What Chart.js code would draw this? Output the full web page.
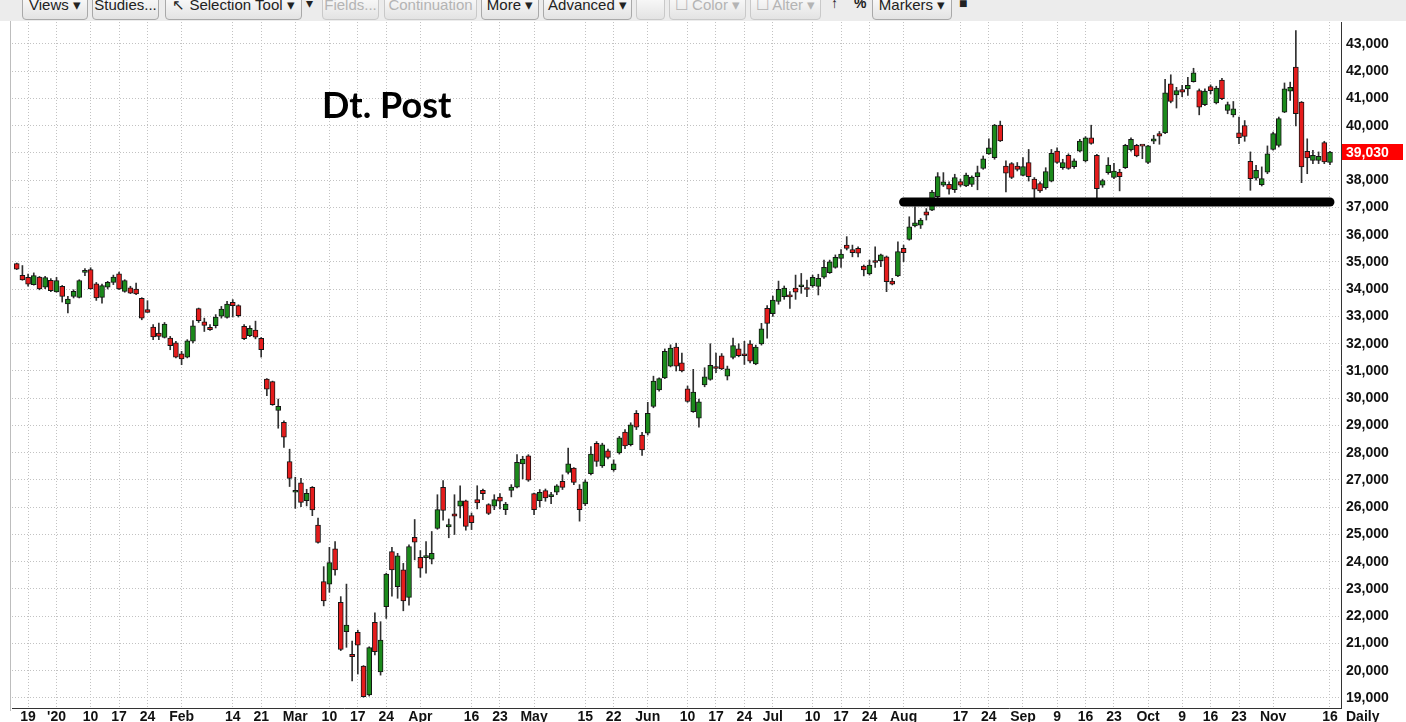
<!DOCTYPE html>
<html>
<head>
<meta charset="utf-8">
<title>Dt. Post</title>
<script src="https://cdn.jsdelivr.net/npm/chart.js"></script>
<style>
  html, body { margin: 0; padding: 0; background: #fff; }
  #wrap { position: relative; width: 1406px; height: 722px; overflow: hidden; font-family: "Liberation Sans", Arial, sans-serif; }
  #chart { position: absolute; left: 0; top: 0; }
  #toolbar { position: absolute; left: 0; top: 0; width: 1406px; height: 21px; background: #ececec; overflow: hidden; }
  .btn { position: absolute; top: -9px; height: 29px; line-height: 25px; border: 1px solid #a9a9a9; border-radius: 4px;
         background: linear-gradient(#ffffff, #e3e3e3); font-size: 15px; color: #222; text-align: center; white-space: nowrap; box-sizing: border-box; }
  .btn.off { color: #b4b4b4; border-color: #c9c9c9; }
  .sym { position: absolute; top: -5px; font-size: 14px; font-weight: bold; color: #222; }
  #title { position: absolute; left: 322px; top: 86px; font: bold 36px Lato, "Open Sans", sans-serif; line-height: 1; color: #000; }
  #leftEdge { position: absolute; left: 10px; top: 21px; width: 1px; height: 690px; background: #bdbdbd; }
</style>
</head>
<body>
<div id="wrap">
  <canvas id="chart" width="1406" height="722"></canvas>
  <div id="leftEdge"></div>
  <div id="toolbar">
    <div class="btn" style="left:22px;width:66px">Views ▾</div>
    <div class="btn" style="left:92px;width:67px">Studies...</div>
    <div class="btn" style="left:165px;width:137px">↖ Selection Tool ▾</div>
    <div class="sym" style="left:306px;font-weight:normal">▾</div>
    <div class="btn off" style="left:322px;width:57px">Fields...</div>
    <div class="btn off" style="left:384px;width:93px">Continuation</div>
    <div class="btn" style="left:481px;width:58px">More ▾</div>
    <div class="btn" style="left:543px;width:89px">Advanced ▾</div>
    <div class="btn off" style="left:636px;width:29px"></div>
    <div class="btn off" style="left:669px;width:77px">☐ Color ▾</div>
    <div class="btn off" style="left:750px;width:71px">☐ Alter ▾</div>
    <div class="sym" style="left:831px">↑</div>
    <div class="sym" style="left:854px">%</div>
    <div class="btn" style="left:872px;width:80px">Markers ▾</div>
    <div class="sym" style="left:959px">■</div>
  </div>
  <div id="title">Dt. Post</div>
</div>

<script>
// trading days (Xetra), Dec 2019 - Nov 2020
const tradingDays = {
  '2019-12': [17, 18, 19, 20, 23, 27, 30],
  '2020-01': [2, 3, 6, 7, 8, 9, 10, 13, 14, 15, 16, 17, 20, 21, 22, 23, 24, 27, 28, 29, 30, 31],
  '2020-02': [3, 4, 5, 6, 7, 10, 11, 12, 13, 14, 17, 18, 19, 20, 21, 24, 25, 26, 27, 28],
  '2020-03': [2, 3, 4, 5, 6, 9, 10, 11, 12, 13, 16, 17, 18, 19, 20, 23, 24, 25, 26, 27, 30, 31],
  '2020-04': [1, 2, 3, 6, 7, 8, 9, 14, 15, 16, 17, 20, 21, 22, 23, 24, 27, 28, 29, 30],
  '2020-05': [4, 5, 6, 7, 8, 11, 12, 13, 14, 15, 18, 19, 20, 21, 22, 25, 26, 27, 28, 29],
  '2020-06': [1, 2, 3, 4, 5, 8, 9, 10, 11, 12, 15, 16, 17, 18, 19, 22, 23, 24, 25, 26, 29, 30],
  '2020-07': [1, 2, 3, 6, 7, 8, 9, 10, 13, 14, 15, 16, 17, 20, 21, 22, 23, 24, 27, 28, 29, 30, 31],
  '2020-08': [3, 4, 5, 6, 7, 10, 11, 12, 13, 14, 17, 18, 19, 20, 21, 24, 25, 26, 27, 28, 31],
  '2020-09': [1, 2, 3, 4, 7, 8, 9, 10, 11, 14, 15, 16, 17, 18, 21, 22, 23, 24, 25, 28, 29, 30],
  '2020-10': [1, 2, 5, 6, 7, 8, 9, 12, 13, 14, 15, 16, 19, 20, 21, 22, 23, 26, 27, 28, 29, 30],
  '2020-11': [2, 3, 4, 5, 6, 9, 10, 11, 12, 13, 16]
};

const open = [
  34940, 34510, 34440, 34170, 34450, 34080, 34330, 33900, 34110, 33460,
  33740, 33700, 34620, 34720, 34200, 33700, 34080, 34250, 34570, 33920,
  34050, 34010, 33670, 33250, 32610, 32390, 32230, 32210, 32030, 31630,
  31510, 32090, 33290, 32800, 32600, 32660, 33010, 32970, 33520, 33400,
  32640, 32300, 32500, 32200, 30700, 30610, 29550, 29120, 27680, 26550,
  26900, 26240, 26730, 25350, 23270, 23180, 24470, 22510, 21430, 20600,
  21410, 20170, 19110, 21780, 19960, 22350, 24370, 23090, 23700, 22690,
  24900, 24160, 24150, 24090, 25220, 26730, 25280, 25760, 26040, 26240,
  25690, 26280, 26620, 26100, 26040, 26370, 25910, 26620, 26740, 27590,
  27890, 26500, 26240, 26610, 26390, 26550, 26950, 27280, 27440, 26670,
  26120, 27230, 28350, 27520, 28070, 27380, 27990, 28760, 28300, 29450,
  28650, 28720, 29700, 30310, 30750, 31180, 31880, 31300, 30350, 29510,
  29270, 30490, 30690, 31100, 31560, 30810, 31500, 31810, 31630, 32000,
  31260, 31990, 33300, 33100, 33550, 33730, 33740, 34040, 34090, 34000,
  34120, 34100, 34440, 34610, 34800, 35130, 35620, 35460, 35500, 34850,
  34560, 35040, 35050, 35190, 34300, 34490, 35500, 35830, 36320, 36350,
  36840, 36900, 37400, 37820, 37850, 37650, 37950, 37790, 37850, 38130,
  38430, 38970, 38830, 40020, 38520, 38610, 38520, 38180, 38650, 38040,
  37880, 37730, 37970, 39070, 38460, 38910, 38500, 39070, 38710, 39560,
  38910, 37820, 38280, 38100, 38300, 38460, 39110, 39280, 39260, 38650,
  39430, 39710, 39740, 41540, 41130, 41330, 41350, 41620, 41290, 40770,
  41440, 40840, 41680, 40560, 40400, 39740, 40010, 38690, 38080, 37840,
  38300, 39130, 39280, 40500, 41270, 42150, 40870, 39060, 38730, 38730,
  39380, 38650
];
const high = [
  34960, 34870, 34560, 34600, 34470, 34470, 34390, 34440, 34140, 33740,
  33980, 34350, 34760, 34790, 34250, 34190, 34290, 34520, 34630, 34350,
  34110, 34230, 33690, 33580, 32700, 32760, 32780, 32270, 32090, 31720,
  32150, 32850, 33310, 32940, 32700, 33070, 33370, 33560, 33620, 33430,
  32700, 32660, 32830, 32230, 30720, 30630, 29970, 29170, 28130, 27100,
  27060, 26660, 26760, 25600, 23820, 24530, 24740, 22720, 23180, 21090,
  21490, 20190, 20880, 22130, 21800, 23580, 24530, 24310, 23940, 24620,
  25550, 24410, 24740, 25110, 26460, 26980, 25570, 26460, 26790, 26260,
  25790, 26790, 26670, 26130, 26460, 26500, 26180, 26830, 27930, 27870,
  27930, 26520, 26650, 26670, 26550, 26830, 27190, 28170, 27460, 26830,
  27010, 28230, 28410, 28350, 28130, 27740, 28600, 28850, 29100, 29550,
  28750, 29850, 30810, 30750, 31810, 31960, 32020, 31660, 30450, 31060,
  29970, 31120, 32000, 31660, 31640, 31180, 32210, 32000, 32090, 32120,
  31950, 32750, 33400, 33750, 34300, 34120, 33910, 34520, 34580, 34340,
  34520, 34550, 35070, 35070, 35260, 35460, 35930, 35620, 35560, 34890,
  35070, 35560, 35290, 35220, 34400, 35740, 35620, 36660, 37020, 36600,
  36960, 37630, 38280, 38280, 37940, 38220, 38040, 38260, 38160, 38520,
  38890, 39520, 40050, 40170, 38710, 38650, 38650, 38830, 39130, 38100,
  37940, 38460, 39130, 39190, 38770, 38970, 38790, 39500, 39600, 40020,
  38950, 38040, 38830, 38620, 38400, 39320, 39560, 39320, 39270, 39280,
  39650, 39790, 41700, 41870, 41410, 41480, 41780, 42110, 41350, 41350,
  41500, 41450, 41740, 40870, 40890, 40320, 40190, 39040, 38550, 38490,
  39260, 39770, 40320, 41570, 41600, 43490, 40890, 39520, 39100, 39040,
  39430, 39060
];
const low = [
  34720, 34330, 34110, 34150, 33980, 34020, 33910, 33890, 33530, 33130,
  33680, 33680, 34500, 34000, 33590, 33490, 34010, 34170, 33980, 33890,
  33840, 33800, 32880, 33150, 32150, 32150, 32210, 31780, 31480, 31230,
  31480, 32030, 32780, 32450, 32490, 32580, 32940, 32940, 32980, 32980,
  32150, 32260, 32180, 31510, 30090, 29740, 28900, 28200, 26760, 25960,
  26020, 26050, 25690, 24680, 22380, 22880, 23510, 20740, 20860, 19630,
  19880, 19030, 19070, 20580, 19840, 21920, 22740, 22660, 22200, 22410,
  24070, 23430, 23580, 23920, 25190, 25530, 24880, 25000, 25610, 25160,
  25180, 25940, 26280, 25730, 25910, 25940, 25730, 26380, 26710, 27040,
  26950, 25730, 26010, 26220, 26130, 26460, 26650, 27220, 26830, 25490,
  26060, 27190, 27500, 27460, 27770, 27320, 27950, 28150, 28250, 28850,
  27900, 28650, 29650, 30260, 30720, 31150, 31000, 30970, 29850, 29480,
  28940, 30420, 30660, 30940, 31050, 30670, 31440, 31520, 31240, 31300,
  31230, 31950, 32200, 33000, 33450, 33630, 33300, 33630, 33850, 33730,
  34070, 33790, 34400, 34580, 34770, 34800, 35440, 35190, 35190, 34490,
  34520, 34800, 34830, 33910, 34160, 34460, 35010, 35800, 36290, 36230,
  36540, 36880, 37360, 37770, 37490, 37550, 37770, 37760, 37770, 37650,
  38400, 38950, 38770, 39420, 37570, 38060, 38340, 38160, 37970, 37360,
  37550, 37670, 37940, 38620, 38400, 38400, 38430, 39040, 38670, 39320,
  37360, 37740, 38220, 38060, 37610, 38430, 39070, 38860, 38790, 38610,
  39340, 39320, 39710, 40840, 40650, 41070, 41110, 41600, 40400, 40740,
  41170, 40800, 40960, 40440, 40320, 39340, 39430, 37630, 38000, 37790,
  38240, 39100, 39220, 40480, 40930, 39990, 37910, 38240, 38610, 38610,
  38610, 38570
];
const close = [
  34740, 34340, 34190, 34500, 34010, 34430, 33950, 34320, 33740, 33640,
  33920, 34320, 34670, 34010, 33680, 34130, 34250, 34450, 34010, 34320,
  33860, 33830, 32940, 33150, 32250, 32270, 32720, 31930, 31510, 31440,
  32110, 32660, 32850, 32670, 32520, 32980, 33270, 33460, 33400, 33030,
  32190, 32570, 32240, 31780, 30330, 29760, 29700, 28570, 27060, 26600,
  26180, 26510, 25900, 24710, 22560, 23970, 23700, 20780, 21680, 20520,
  20940, 19050, 20850, 20700, 21130, 23550, 23700, 24220, 22560, 24560,
  24720, 23760, 24170, 24310, 25910, 25880, 25360, 25670, 26240, 25300,
  25430, 26160, 26500, 25770, 26280, 26220, 26120, 26740, 27650, 27770,
  26990, 25910, 26550, 26340, 26400, 26790, 26730, 27590, 26910, 25910,
  26930, 27950, 27680, 28290, 27830, 27590, 28550, 28250, 29020, 28940,
  28100, 29450, 30630, 30720, 31720, 31840, 31180, 31000, 29880, 30230,
  29870, 30790, 31210, 31090, 31080, 31080, 31930, 31560, 31560, 31360,
  31880, 32550, 32750, 33600, 34000, 34040, 33720, 33890, 34100, 33990,
  34440, 34400, 34800, 35010, 35170, 35290, 35500, 35340, 35320, 34710,
  34890, 34980, 35260, 34280, 34190, 35380, 35340, 36290, 36440, 36540,
  36720, 37570, 38130, 37940, 37670, 38100, 37820, 38190, 38120, 38280,
  38790, 39190, 40020, 39440, 38260, 38100, 38400, 38500, 38130, 37670,
  37610, 38320, 38990, 38650, 38650, 38430, 38710, 39440, 39560, 39350,
  37690, 37990, 38560, 38340, 38130, 39280, 39500, 38890, 39250, 39260,
  39520, 39620, 41210, 40890, 41290, 41230, 41480, 41940, 40680, 41270,
  41290, 41380, 40990, 40780, 40620, 39560, 39610, 38060, 38360, 38060,
  38970, 39710, 40260, 41350, 41410, 40440, 38490, 38820, 38910, 38880,
  38670, 39030
];

// date axis labels
const xTickLabels = {
  '2019-12-19': '19', '2020-01-02': "'20", '2020-01-10': '10', '2020-01-17': '17', '2020-01-24': '24',
  '2020-02-03': 'Feb', '2020-02-14': '14', '2020-02-21': '21',
  '2020-03-02': 'Mar', '2020-03-10': '10', '2020-03-17': '17', '2020-03-24': '24',
  '2020-04-01': 'Apr', '2020-04-16': '16', '2020-04-23': '23',
  '2020-05-04': 'May', '2020-05-15': '15', '2020-05-22': '22',
  '2020-06-01': 'Jun', '2020-06-10': '10', '2020-06-17': '17', '2020-06-24': '24',
  '2020-07-01': 'Jul', '2020-07-10': '10', '2020-07-17': '17', '2020-07-24': '24',
  '2020-08-03': 'Aug', '2020-08-17': '17', '2020-08-24': '24',
  '2020-09-01': 'Sep', '2020-09-09': '9', '2020-09-16': '16', '2020-09-23': '23',
  '2020-10-01': 'Oct', '2020-10-09': '9', '2020-10-16': '16', '2020-10-23': '23',
  '2020-11-02': 'Nov', '2020-11-16': '16'
};
const yTicks = [19000, 20000, 21000, 22000, 23000, 24000, 25000, 26000, 27000, 28000, 29000, 30000, 31000,
                32000, 33000, 34000, 35000, 36000, 37000, 38000, 39000, 40000, 41000, 42000, 43000];

// drawn support line
const supportLevel = 37200;
const supportFrom = '2020-08-03';
const supportTo = '2020-11-16';

const UP = '#1b8a1b', DOWN = '#e51c1c', EDGE = '#151515', WICK = '#303030';
const FONT = '"Liberation Sans", Arial, sans-serif';

const dates = [];
Object.keys(tradingDays).forEach(m => {
  tradingDays[m].forEach(d => dates.push(m + '-' + String(d).padStart(2, '0')));
});
const tickIndex = Object.keys(xTickLabels).map(d => dates.indexOf(d));

const wicks = dates.map((d, i) => ({ x: i, y: [low[i], high[i]] }));
const bodies = dates.map((d, i) => ({ x: i, y: [open[i], close[i]] }));
const isUp = i => close[i] >= open[i];

const overlay = {
  id: 'overlay',
  afterDatasetsDraw(chart) {
    const ctx = chart.ctx, xs = chart.scales.x, ys = chart.scales.y;
    // support line
    const y = ys.getPixelForValue(supportLevel);
    ctx.save();
    ctx.strokeStyle = '#000';
    ctx.lineWidth = 9;
    ctx.lineCap = 'round';
    ctx.beginPath();
    ctx.moveTo(xs.getPixelForValue(dates.indexOf(supportFrom)), y);
    ctx.lineTo(xs.getPixelForValue(dates.indexOf(supportTo)), y);
    ctx.stroke();
    ctx.restore();
  },
  afterDraw(chart) {
    const ctx = chart.ctx, ys = chart.scales.y, xs = chart.scales.x;
    const last = close[close.length - 1];
    const py = Math.round(ys.getPixelForValue(last));
    ctx.save();
    ctx.fillStyle = '#ff0000';
    ctx.fillRect(ys.left + 1, py - 8, chart.width - ys.left - 4, 16);
    ctx.fillStyle = '#fff';
    ctx.font = 'bold 14px ' + FONT;
    ctx.textBaseline = 'middle';
    ctx.textAlign = 'left';
    ctx.fillText(last.toLocaleString('en-US'), ys.left + 5, py + 1);
    // period label
    ctx.fillStyle = '#111';
    ctx.textBaseline = 'top';
    ctx.fillText('Daily', ys.left + 5, xs.top + 2);
    ctx.restore();
  }
};

new Chart(document.getElementById('chart'), {
  type: 'bar',
  data: {
    datasets: [
      {
        label: 'body',
        data: bodies,
        order: 0,
        grouped: false,
        barThickness: 5,
        minBarLength: 2,
        borderWidth: 1,
        borderSkipped: false,
        borderColor: EDGE,
        backgroundColor: c => isUp(c.dataIndex) ? UP : DOWN
      },
      {
        label: 'wick',
        data: wicks,
        order: 1,
        grouped: false,
        barThickness: 1,
        borderWidth: 0,
        backgroundColor: WICK
      }
    ]
  },
  options: {
    responsive: false,
    devicePixelRatio: 1,
    animation: false,
    events: [],
    layout: { padding: { left: 12, top: 22, right: 0, bottom: 0 } },
    plugins: { legend: { display: false }, tooltip: { enabled: false } },
    scales: {
      x: {
        type: 'linear',
        position: 'bottom',
        offset: false,
        min: -0.83,
        max: 232.94,
        afterBuildTicks: s => { s.ticks = tickIndex.map(v => ({ value: v })); },
        afterFit: s => { s.height = 14; },
        ticks: {
          autoSkip: false,
          maxRotation: 0,
          padding: 1,
          color: '#111',
          font: { family: FONT, size: 14, weight: 'bold' },
          callback: v => xTickLabels[dates[v]]
        },
        grid: { color: '#c2c2c2', drawTicks: false, offset: false },
        border: { display: true, color: '#333', width: 1, dash: [1, 2] }
      },
      y: {
        type: 'linear',
        position: 'right',
        min: 18633,
        max: 43807,
        afterBuildTicks: s => { s.ticks = yTicks.map(v => ({ value: v })); },
        afterFit: s => { s.width = 65; },
        ticks: {
          padding: 5,
          color: '#111',
          font: { family: FONT, size: 14, weight: 'bold' },
          callback: v => v.toLocaleString('en-US')
        },
        grid: { color: '#c2c2c2', drawTicks: false },
        border: { display: true, color: '#333', width: 1, dash: [1, 2] }
      }
    }
  },
  plugins: [overlay]
});
</script>
</body>
</html>
